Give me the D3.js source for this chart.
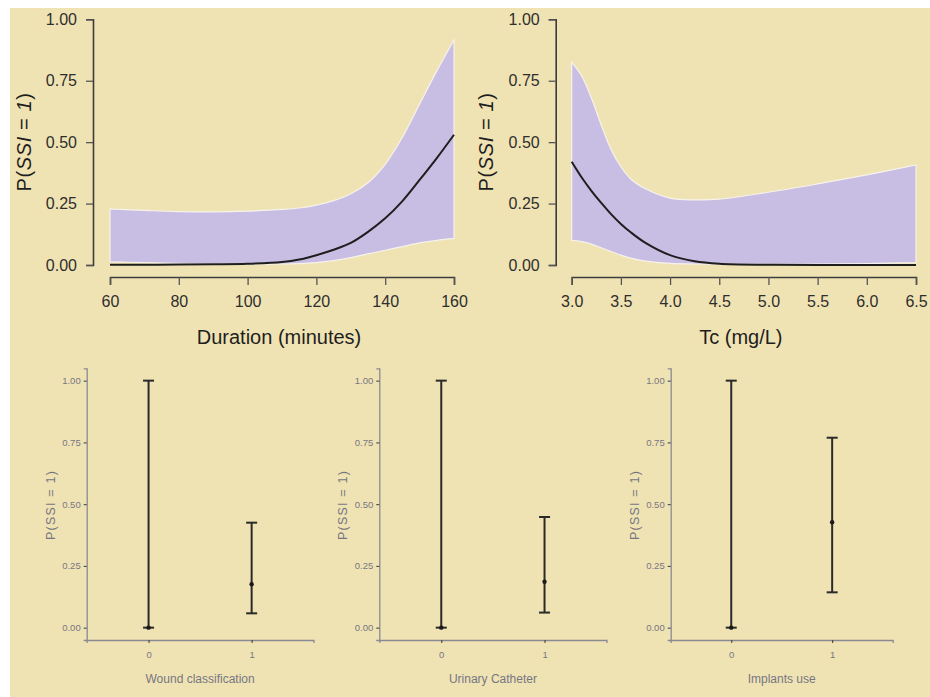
<!DOCTYPE html>
<html>
<head>
<meta charset="utf-8">
<script src="https://cdn.jsdelivr.net/npm/d3@7"></script>
<style>
  html, body { margin: 0; padding: 0; background: #ffffff; }
  svg { display: block; }
</style>
</head>
<body>
<div id="chart"></div>
<script>
// ---- data ----
const durX     = [60, 70, 80, 90, 100, 110, 115, 120, 125, 130, 135, 140, 145, 150, 155, 160];
const durFit   = [0.001, 0.001, 0.002, 0.003, 0.005, 0.012, 0.022, 0.04, 0.062, 0.09, 0.135, 0.19, 0.26, 0.346, 0.435, 0.53];
const durUpper = [0.228, 0.222, 0.217, 0.216, 0.219, 0.226, 0.232, 0.244, 0.262, 0.29, 0.335, 0.41, 0.52, 0.655, 0.79, 0.916];
const durLower = [0.013, 0.01, 0.007, 0.005, 0.004, 0.004, 0.006, 0.01, 0.018, 0.03, 0.045, 0.06, 0.075, 0.09, 0.1, 0.108];
const durTicks = [60, 80, 100, 120, 140, 160];

const tcX     = [3.0, 3.1, 3.2, 3.3, 3.4, 3.5, 3.6, 3.75, 4.0, 4.25, 4.5, 5.0, 5.5, 6.0, 6.5];
const tcFit   = [0.42, 0.357, 0.302, 0.253, 0.207, 0.167, 0.133, 0.09, 0.04, 0.015, 0.005, 0.001, 0, 0, 0];
const tcUpper = [0.826, 0.77, 0.68, 0.57, 0.47, 0.40, 0.35, 0.31, 0.272, 0.265, 0.268, 0.296, 0.33, 0.367, 0.407];
const tcLower = [0.10, 0.095, 0.085, 0.07, 0.055, 0.04, 0.028, 0.016, 0.007, 0.004, 0.003, 0.003, 0.004, 0.006, 0.01];
const tcTicks = [3.0, 3.5, 4.0, 4.5, 5.0, 5.5, 6.0, 6.5];

const probTicks = [0, 0.25, 0.5, 0.75, 1];

const catLevels = ["0", "1"];
const woundEst = [0, 0.176], woundLo = [0, 0.058], woundHi = [1, 0.425];
const cathEst  = [0, 0.186], cathLo  = [0, 0.061], cathHi  = [1, 0.448];
const implEst  = [0, 0.427], implLo  = [0, 0.143], implHi  = [1, 0.769];

// ---- stage ----
const W = 930, H = 697;
const BG = "#f0e3b3";
const FONT = "'Liberation Sans', Arial, sans-serif";

const svg = d3.select("#chart").append("svg")
  .attr("width", W).attr("height", H);

svg.append("rect")
  .attr("x", 10).attr("y", 8)
  .attr("width", W - 10).attr("height", H - 8)
  .attr("fill", BG);

const smooth = d3.curveCatmullRom.alpha(0.5);

// base-R style effect plot with a confidence band
function effectPanel(opt) {
  const x = d3.scaleLinear().domain(opt.xDomain).range(opt.xRange);
  const y = d3.scaleLinear().domain([0, 1]).range([265, 19.3]);
  const g = svg.append("g");

  const rows = opt.xs.map((v, i) => ({ x: v, fit: opt.fit[i], lo: opt.lo[i], hi: opt.hi[i] }));

  g.append("path")
    .datum(rows)
    .attr("d", d3.area().x(d => x(d.x)).y0(d => y(d.lo)).y1(d => y(d.hi)).curve(smooth))
    .attr("fill", "#c8bee3")
    .attr("stroke", "#f6f2ec")
    .attr("stroke-width", 1.2);

  g.append("path")
    .datum(rows)
    .attr("d", d3.line().x(d => x(d.x)).y(d => y(d.fit)).curve(smooth))
    .attr("fill", "none")
    .attr("stroke", "#1e1e1e")
    .attr("stroke-width", 2);

  // x axis (offset below the plot, like R)
  const xa = g.append("g")
    .attr("transform", "translate(0,277)")
    .call(d3.axisBottom(x).tickValues(opt.ticks).tickFormat(opt.fmt)
      .tickSizeOuter(0).tickSize(8).tickPadding(11));

  // y axis
  const ya = g.append("g")
    .attr("transform", `translate(${opt.yAxisX},0)`)
    .call(d3.axisLeft(y).tickValues(probTicks).tickFormat(d3.format(".2f"))
      .tickSizeOuter(0).tickSize(7).tickPadding(9));

  [xa, ya].forEach(a => {
    a.select(".domain").attr("stroke", "#3c3c3c").attr("stroke-width", 1.6);
    a.selectAll(".tick line").attr("stroke", "#555").attr("stroke-width", 1.3);
    a.selectAll(".tick text").attr("fill", "#2e2e2e")
      .style("font-family", FONT).style("font-size", "16px");
  });

  g.append("text")
    .attr("x", (opt.xRange[0] + opt.xRange[1]) / 2 - 3)
    .attr("y", 344)
    .attr("text-anchor", "middle")
    .attr("fill", "#1e1e1e")
    .style("font-family", FONT).style("font-size", "20px")
    .text(opt.xTitle);

  const yt = g.append("text")
    .attr("transform", `translate(${opt.yTitleX},142) rotate(-90)`)
    .attr("text-anchor", "middle")
    .attr("fill", "#1e1e1e")
    .style("font-family", FONT).style("font-size", "20px")
    .style("letter-spacing", "0.6px");
  yt.append("tspan").text("P(");
  yt.append("tspan").style("font-style", "italic").text("SSI");
  yt.append("tspan").text(" = ");
  yt.append("tspan").style("font-style", "italic").text("1");
  yt.append("tspan").text(")");
}

effectPanel({
  xs: durX, fit: durFit, lo: durLower, hi: durUpper,
  xDomain: [60, 160], xRange: [110, 454], ticks: durTicks, fmt: d3.format("d"),
  yAxisX: 93, yTitleX: 31, xTitle: "Duration (minutes)"
});

effectPanel({
  xs: tcX, fit: tcFit, lo: tcLower, hi: tcUpper,
  xDomain: [3, 6.5], xRange: [571.7, 916], ticks: tcTicks, fmt: d3.format(".1f"),
  yAxisX: 555.7, yTitleX: 493, xTitle: "Tc (mg/L)"
});

// ggplot style categorical error-bar panel
function errPanel(opt) {
  const x = d3.scaleLinear().domain([-0.6, 1.6]).range([opt.left, opt.right]);
  const y = d3.scaleLinear().domain([-0.05, 1.05]).range([640, 368.3]);
  const g = svg.append("g");
  const FG = "#767683";

  const xa = g.append("g")
    .attr("transform", "translate(0,640)")
    .call(d3.axisBottom(x).tickValues([0, 1]).tickFormat((d, i) => catLevels[i])
      .tickSizeOuter(0).tickSize(3).tickPadding(8));
  const ya = g.append("g")
    .attr("transform", `translate(${opt.left},0)`)
    .call(d3.axisLeft(y).tickValues(probTicks).tickFormat(d3.format(".2f"))
      .tickSizeOuter(0).tickSize(3).tickPadding(3));

  [xa, ya].forEach(a => {
    a.select(".domain").attr("stroke", "#8a8a94").attr("stroke-width", 1.3);
    a.selectAll(".tick line").attr("stroke", "#444").attr("stroke-width", 1.1);
    a.selectAll(".tick text").attr("fill", FG)
      .style("font-family", FONT).style("font-size", "9.5px");
  });

  const rows = catLevels.map((c, i) => ({ i, est: opt.est[i], lo: opt.lo[i], hi: opt.hi[i] }));
  const capW = 5.5;

  const bars = g.selectAll("g.eb").data(rows).enter().append("g").attr("class", "eb");
  bars.append("line")
    .attr("x1", d => x(d.i)).attr("x2", d => x(d.i))
    .attr("y1", d => y(d.lo)).attr("y2", d => y(d.hi))
    .attr("stroke", "#2a2a2a").attr("stroke-width", 2);
  bars.append("line")
    .attr("x1", d => x(d.i) - capW).attr("x2", d => x(d.i) + capW)
    .attr("y1", d => y(d.hi)).attr("y2", d => y(d.hi))
    .attr("stroke", "#2a2a2a").attr("stroke-width", 2);
  bars.append("line")
    .attr("x1", d => x(d.i) - capW).attr("x2", d => x(d.i) + capW)
    .attr("y1", d => y(d.lo)).attr("y2", d => y(d.lo))
    .attr("stroke", "#2a2a2a").attr("stroke-width", 2);
  bars.append("circle")
    .attr("cx", d => x(d.i)).attr("cy", d => y(d.est))
    .attr("r", 2.2).attr("fill", "#1a1a1a");

  g.append("text")
    .attr("x", (opt.left + opt.right) / 2)
    .attr("y", 683)
    .attr("text-anchor", "middle")
    .attr("fill", FG)
    .style("font-family", FONT).style("font-size", "12px")
    .text(opt.xTitle);

  g.append("text")
    .attr("transform", `translate(${opt.yTitleX},505) rotate(-90)`)
    .attr("text-anchor", "middle")
    .attr("fill", FG)
    .style("font-family", FONT).style("font-size", "12.5px")
    .style("letter-spacing", "1.2px")
    .text("P(SSI = 1)");
}

errPanel({ left: 86.7, right: 313.5, est: woundEst, lo: woundLo, hi: woundHi,
  xTitle: "Wound classification", yTitleX: 55 });
errPanel({ left: 379.3, right: 606.5, est: cathEst, lo: cathLo, hi: cathHi,
  xTitle: "Urinary Catheter", yTitleX: 347 });
errPanel({ left: 670.7, right: 892.7, est: implEst, lo: implLo, hi: implHi,
  xTitle: "Implants use", yTitleX: 639 });
</script>
</body>
</html>
